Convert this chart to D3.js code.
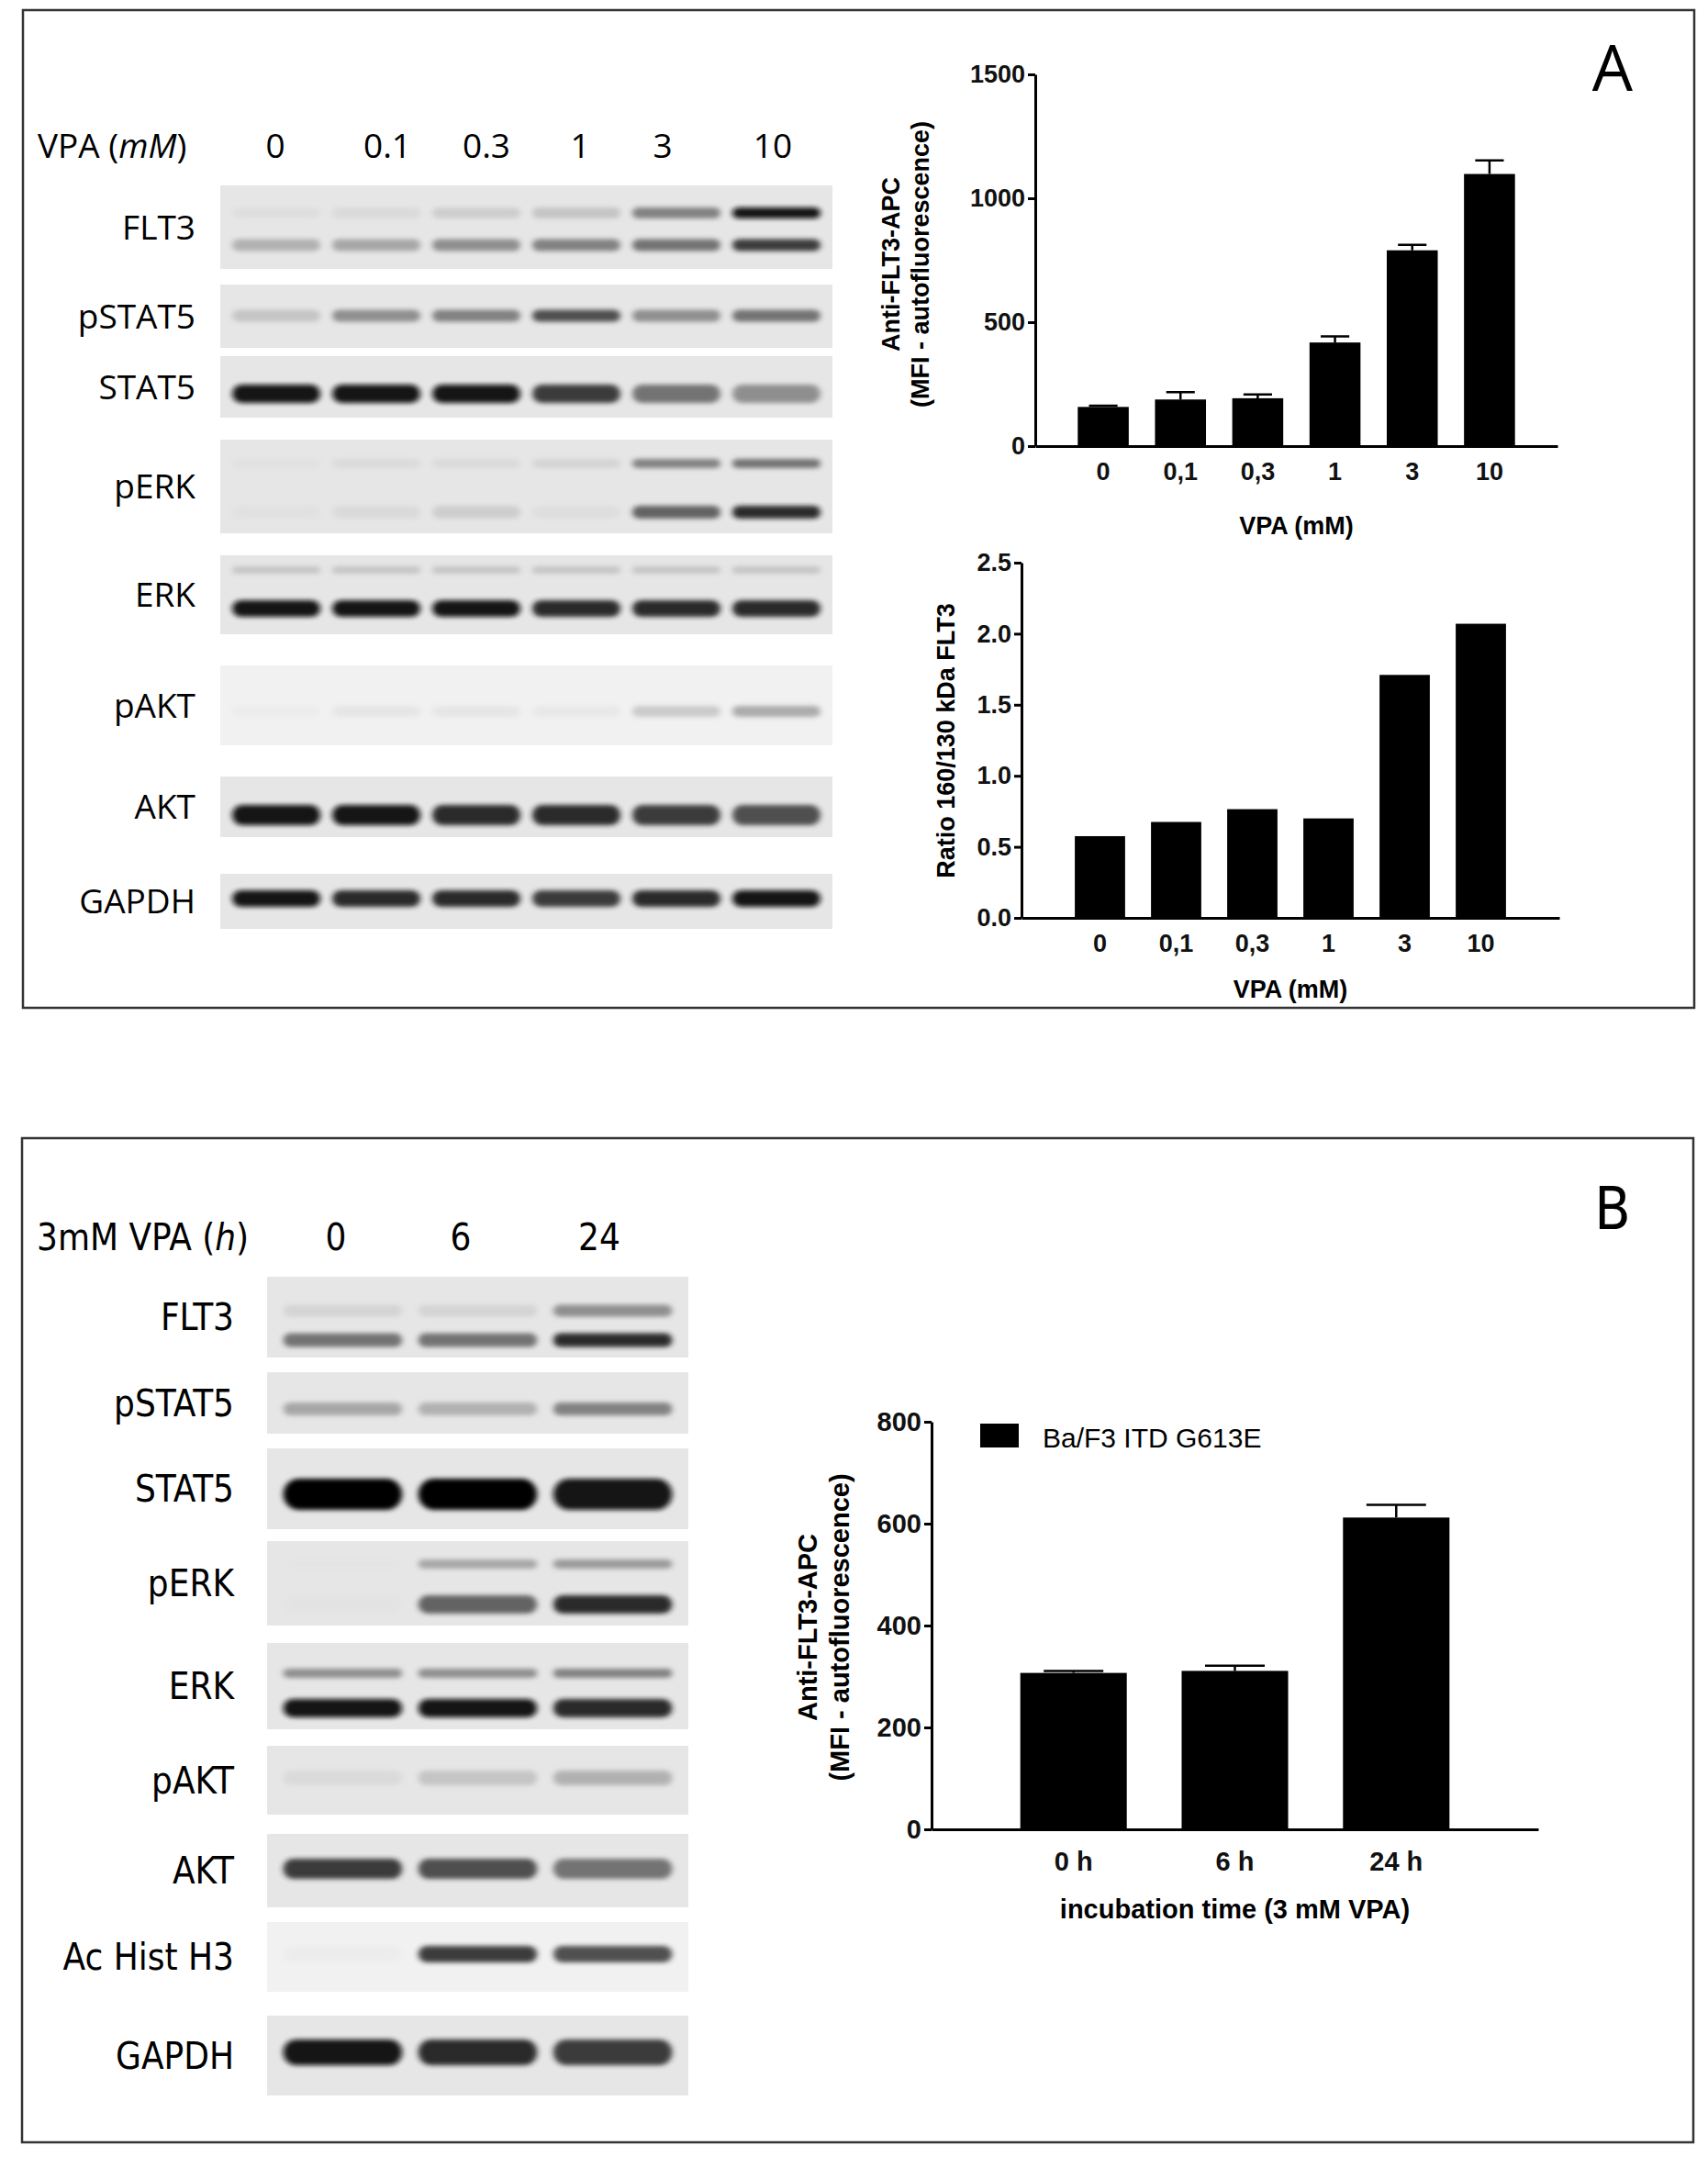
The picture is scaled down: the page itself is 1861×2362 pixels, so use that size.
<!DOCTYPE html>
<html><head><meta charset="utf-8">
<script src="https://cdn.jsdelivr.net/npm/d3@7"></script>
<style>body{margin:0;background:#fff}svg{display:block}</style>
</head><body>
<script>
// ---- data ----
const vpaDoses = ["0", "0,1", "0,3", "1", "3", "10"];
const mfiMean = [158, 188, 193, 418, 790, 1098];
const mfiErr = [5, 30, 15, 25, 22, 55];
const ratioFlt3 = [0.575, 0.675, 0.765, 0.70, 1.71, 2.07];
const timeCats = ["0 h", "6 h", "24 h"];
const timeMean = [307, 311, 612];
const timeErr = [4, 10, 25];

const blotLanesA = ["0", "0.1", "0.3", "1", "3", "10"];
const blotLanesB = ["0", "6", "24"];
// band darkness per lane (0..1), one array per band
const blotRowsA = [
  {name: "FLT3", bands: [[0.15, 0.2, 0.3, 0.35, 0.65, 0.95], [0.45, 0.5, 0.6, 0.65, 0.7, 0.85]]},
  {name: "pSTAT5", bands: [[0.35, 0.6, 0.65, 0.8, 0.6, 0.7]]},
  {name: "STAT5", bands: [[0.95, 0.95, 0.95, 0.85, 0.7, 0.6]]},
  {name: "pERK", bands: [[0.12, 0.2, 0.2, 0.25, 0.65, 0.7], [0.12, 0.2, 0.3, 0.15, 0.75, 0.9]]},
  {name: "ERK", bands: [[0.35, 0.35, 0.35, 0.35, 0.35, 0.35], [0.95, 0.95, 0.95, 0.9, 0.9, 0.9]]},
  {name: "pAKT", bands: [[0.06, 0.15, 0.15, 0.12, 0.35, 0.5]]},
  {name: "AKT", bands: [[0.95, 0.95, 0.9, 0.9, 0.85, 0.8]]},
  {name: "GAPDH", bands: [[0.95, 0.9, 0.9, 0.85, 0.9, 0.95]]}
];
const blotRowsB = [
  {name: "FLT3", bands: [[0.25, 0.25, 0.6], [0.7, 0.7, 0.9]]},
  {name: "pSTAT5", bands: [[0.5, 0.45, 0.65]]},
  {name: "STAT5", bands: [[1, 1, 0.95]]},
  {name: "pERK", bands: [[0.06, 0.5, 0.55], [0.08, 0.75, 0.9]]},
  {name: "ERK", bands: [[0.6, 0.6, 0.65], [0.95, 0.95, 0.9]]},
  {name: "pAKT", bands: [[0.2, 0.35, 0.45]]},
  {name: "AKT", bands: [[0.85, 0.8, 0.7]]},
  {name: "Ac Hist H3", bands: [[0.06, 0.85, 0.8]]},
  {name: "GAPDH", bands: [[0.95, 0.9, 0.85]]}
];

// ---- layout ----
const W = 1861, H = 2362;
const svg = d3.select("body").append("svg").attr("width", W).attr("height", H);
const defs = svg.append("defs");
defs.append("filter").attr("id", "blur").attr("x", "-20%").attr("y", "-100%").attr("width", "140%").attr("height", "300%")
  .append("feGaussianBlur").attr("stdDeviation", "3 2.5");

svg.append("rect").attr("x", 25).attr("y", 11).attr("width", 1821).attr("height", 1087)
  .attr("fill", "none").attr("stroke", "#333").attr("stroke-width", 2.5);
svg.append("rect").attr("x", 24).attr("y", 1240).attr("width", 1821).attr("height", 1094)
  .attr("fill", "none").attr("stroke", "#333").attr("stroke-width", 2.5);
svg.append("text").attr("x", 1757).attr("y", 99).attr("text-anchor", "middle")
  .attr("font-family", "Open Sans").attr("font-size", 70).text("A");
svg.append("text").attr("x", 1757).attr("y", 1339).attr("text-anchor", "middle")
  .attr("font-family", "Liberation Sans Narrow, DejaVu Sans Condensed").attr("font-size", 64).text("B");

// ---- western blots ----
function drawBlot(cfg) {
  const g = svg.append("g");
  const x = d3.scaleBand().domain(cfg.lanes).range([cfg.x0, cfg.x1]).padding(0.12);
  g.append("text").attr("x", cfg.headX).attr("y", cfg.headY).attr("font-family", cfg.font)
    .attr("font-size", cfg.fs).html(cfg.head);
  g.selectAll("text.lane").data(cfg.lanes).join("text").attr("class", "lane")
    .attr("x", (d, i) => cfg.laneLabelX ? cfg.laneLabelX[i] : x(d) + x.bandwidth() / 2)
    .attr("y", cfg.headY).attr("text-anchor", "middle")
    .attr("font-family", cfg.font).attr("font-size", cfg.fs).text(d => d);
  cfg.rows.forEach((row, ri) => {
    const L = cfg.layout[ri];
    g.append("rect").attr("x", cfg.x0).attr("y", L.top).attr("width", cfg.x1 - cfg.x0).attr("height", L.bottom - L.top)
      .attr("fill", L.bg || "#e6e6e6");
    g.append("text").attr("x", cfg.labelX).attr("y", (L.top + L.bottom) / 2).attr("dy", "0.36em")
      .attr("text-anchor", "end").attr("font-family", cfg.font).attr("font-size", cfg.fs).text(row.name);
    row.bands.forEach((band, bi) => {
      g.selectAll(null).data(band).join("rect")
        .attr("x", (d, i) => x(cfg.lanes[i]))
        .attr("y", L.bandY[bi] - L.bandH[bi] / 2)
        .attr("width", x.bandwidth()).attr("height", L.bandH[bi])
        .attr("rx", L.bandH[bi] / 2)
        .attr("fill", d => d3.interpolateGreys(0.15 + d * 0.85))
        .attr("opacity", d => 0.25 + d * 0.75)
        .attr("filter", "url(#blur)");
    });
  });
}

drawBlot({
  lanes: blotLanesA, rows: blotRowsA, x0: 240, x1: 907, labelX: 213,
  head: 'VPA (<tspan font-style="italic">mM</tspan>)', headX: 41, headY: 172,
  laneLabelX: [300, 422, 530, 632, 722, 842],
  font: "Open Sans", fs: 37,
  layout: [
    {top: 202, bottom: 293, bandY: [232, 267], bandH: [12, 13]},
    {top: 310, bottom: 379, bandY: [344], bandH: [13]},
    {top: 388, bottom: 455, bandY: [429], bandH: [20]},
    {top: 479, bottom: 581, bandY: [505, 558], bandH: [10, 14]},
    {top: 605, bottom: 691, bandY: [621, 663], bandH: [8, 18]},
    {top: 725, bottom: 812, bandY: [775], bandH: [12], bg: "#f1f1f1"},
    {top: 846, bottom: 912, bandY: [888], bandH: [22]},
    {top: 952, bottom: 1012, bandY: [979], bandH: [18]}
  ]
});

drawBlot({
  lanes: blotLanesB, rows: blotRowsB, x0: 291, x1: 750, labelX: 255,
  head: '3mM VPA (<tspan font-style="italic">h</tspan>)', headX: 40, headY: 1362,
  laneLabelX: [366, 502, 653],
  font: "Liberation Sans Narrow, DejaVu Sans Condensed", fs: 40,
  layout: [
    {top: 1391, bottom: 1479, bandY: [1428, 1460], bandH: [13, 15]},
    {top: 1495, bottom: 1562, bandY: [1535], bandH: [14]},
    {top: 1578, bottom: 1666, bandY: [1628], bandH: [34]},
    {top: 1679, bottom: 1771, bandY: [1704, 1748], bandH: [10, 20]},
    {top: 1790, bottom: 1884, bandY: [1823, 1861], bandH: [10, 20]},
    {top: 1902, bottom: 1977, bandY: [1937], bandH: [16]},
    {top: 1998, bottom: 2078, bandY: [2036], bandH: [22]},
    {top: 2094, bottom: 2170, bandY: [2129], bandH: [18], bg: "#f1f1f1"},
    {top: 2196, bottom: 2283, bandY: [2236], bandH: [28]}
  ]
});

// ---- bar charts ----
function barChart(cfg) {
  const g = svg.append("g");
  const x = d3.scaleBand().domain(cfg.cats).range([cfg.left, cfg.right]).paddingInner(cfg.pad).paddingOuter(cfg.padOuter);
  const y = d3.scaleLinear().domain([0, cfg.max]).range([cfg.bottom, cfg.top]);
  const fam = "Liberation Sans, Arial";
  g.selectAll("rect.bar").data(cfg.values).join("rect")
    .attr("x", (d, i) => x(cfg.cats[i])).attr("y", d => y(d))
    .attr("width", x.bandwidth()).attr("height", d => y(0) - y(d)).attr("fill", "#000");
  if (cfg.err) {
    cfg.err.forEach((e, i) => {
      const cx = x(cfg.cats[i]) + x.bandwidth() / 2, w = x.bandwidth() * 0.28;
      g.append("path").attr("d", `M${cx},${y(cfg.values[i])}V${y(cfg.values[i] + e)}M${cx - w},${y(cfg.values[i] + e)}H${cx + w}`)
        .attr("stroke", "#000").attr("stroke-width", 2.5).attr("fill", "none");
    });
  }
  const ya = g.append("g").attr("transform", `translate(${cfg.left},0)`)
    .call(d3.axisLeft(y).tickValues(cfg.ticks).tickFormat(cfg.fmt).tickSize(8).tickSizeOuter(0));
  const xa = g.append("g").attr("transform", `translate(0,${cfg.bottom})`)
    .call(d3.axisBottom(x).tickSize(0).tickSizeOuter(0).tickPadding(cfg.xPad));
  [ya, xa].forEach(a => {
    a.attr("font-size", null);
    a.select(".domain").attr("stroke", "#000").attr("stroke-width", 3);
    a.selectAll(".tick line").attr("stroke", "#000").attr("stroke-width", 3);
    a.selectAll("text").attr("font-family", fam).attr("font-weight", "bold").style("font-size", cfg.fs + "px").attr("fill", "#111");
  });
  g.append("text").attr("x", (cfg.left + cfg.right) / 2).attr("y", cfg.xTitleY).attr("text-anchor", "middle")
    .attr("font-family", fam).attr("font-weight", "bold").style("font-size", cfg.fs + "px").text(cfg.xTitle);
  cfg.yTitle.forEach((t, i) => {
    g.append("text").attr("transform", `translate(${cfg.yTitleX[i]},${cfg.yTitleC}) rotate(-90)`)
      .attr("text-anchor", "middle").attr("font-family", fam).attr("font-weight", "bold").style("font-size", cfg.fs + "px").text(t);
  });
  return {g, x, y};
}

barChart({
  cats: vpaDoses, values: mfiMean, err: mfiErr, left: 1128, right: 1697, top: 81, bottom: 486,
  max: 1500, ticks: [0, 500, 1000, 1500], fmt: d3.format("d"), pad: 0.34, padOuter: 0.55, fs: 27, xPad: 18,
  xTitle: "VPA (mM)", xTitleY: 582, yTitle: ["Anti-FLT3-APC", "(MFI - autofluorescence)"], yTitleX: [980, 1012], yTitleC: 288
});
barChart({
  cats: vpaDoses, values: ratioFlt3, left: 1113, right: 1699, top: 613, bottom: 1000,
  max: 2.5, ticks: [0, 0.5, 1, 1.5, 2, 2.5], fmt: d3.format(".1f"), pad: 0.34, padOuter: 0.7, fs: 27, xPad: 18,
  xTitle: "VPA (mM)", xTitleY: 1087, yTitle: ["Ratio 160/130 kDa FLT3"], yTitleX: [1040], yTitleC: 807
});
const cB = barChart({
  cats: timeCats, values: timeMean, err: timeErr, left: 1015, right: 1676, top: 1549, bottom: 1993,
  max: 800, ticks: [0, 200, 400, 600, 800], fmt: d3.format("d"), pad: 0.34, padOuter: 0.55, fs: 29, xPad: 24,
  xTitle: "incubation time (3 mM VPA)", xTitleY: 2090, yTitle: ["Anti-FLT3-APC", "(MFI - autofluorescence)"], yTitleX: [890, 925], yTitleC: 1773
});
cB.g.append("rect").attr("x", 1068).attr("y", 1551).attr("width", 42).attr("height", 26).attr("fill", "#000");
cB.g.append("text").attr("x", 1136).attr("y", 1566).attr("dy", "0.35em")
  .attr("font-family", "Liberation Sans Narrow, Liberation Sans").attr("font-size", 30).text("Ba/F3 ITD G613E");
</script>
</body></html>
